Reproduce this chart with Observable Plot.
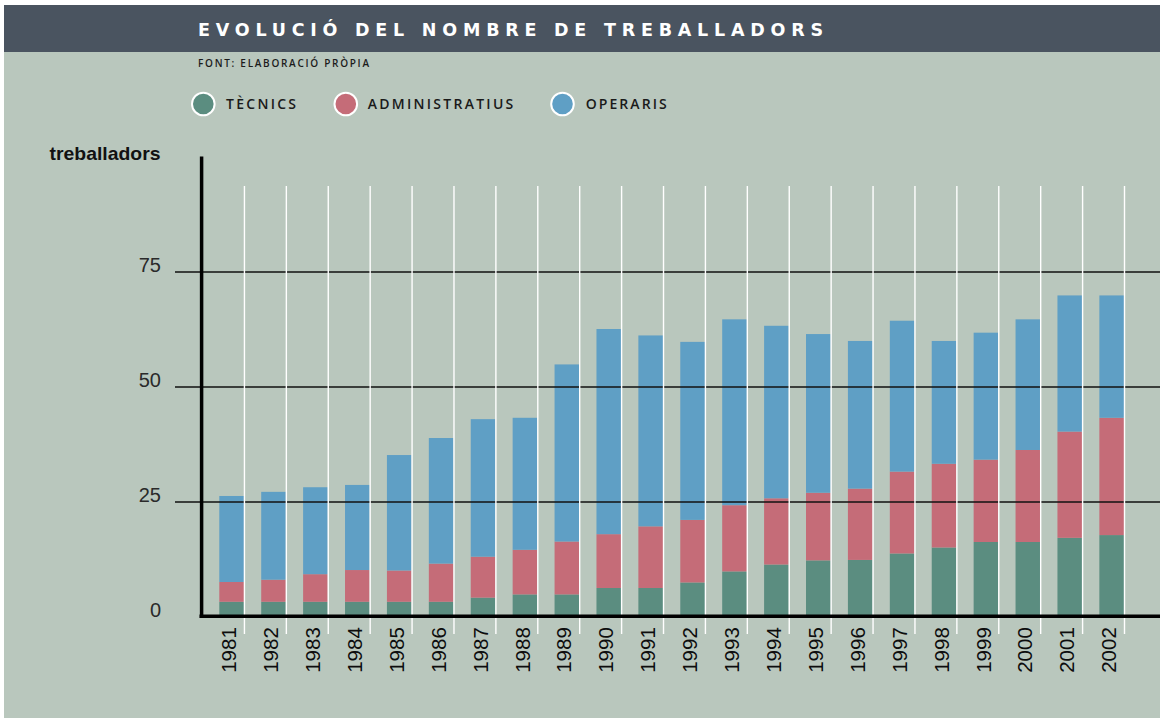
<!DOCTYPE html>
<html>
<head>
<meta charset="utf-8">
<script src="https://cdn.jsdelivr.net/npm/d3@7"></script>
<script src="https://cdn.jsdelivr.net/npm/@observablehq/plot@0.6"></script>
<style>
  html, body { margin: 0; padding: 0; background: #ffffff; }
  body { width: 1160px; height: 718px; position: relative; overflow: hidden; }
  #decor, #chart { position: absolute; left: 0; top: 0; }
  #chart svg { display: block; }
  g[aria-label="xlabels"] text { letter-spacing: 1.4px; }
</style>
</head>
<body>
<svg id="decor" width="1160" height="718"></svg>
<div id="chart"></div>
<script>
// ---- data ----
const years = [1981, 1982, 1983, 1984, 1985, 1986, 1987, 1988, 1989, 1990, 1991,
               1992, 1993, 1994, 1995, 1996, 1997, 1998, 1999, 2000, 2001, 2002];
const tecnics        = [3.2, 3.2, 3.2, 3.2, 3.2, 3.2, 4.1, 4.8, 4.8, 6.2, 6.2,
                        7.4, 9.8, 11.3, 12.2, 12.3, 13.7, 15.0, 16.2, 16.2, 17.1, 17.7];
const administratius = [4.3, 4.8, 6.0, 6.9, 6.8, 8.3, 8.9, 9.7, 11.5, 11.7, 13.4,
                        13.6, 14.4, 14.4, 14.7, 15.5, 17.8, 18.2, 17.9, 20.0, 23.1, 25.5];
const operaris       = [18.7, 19.1, 18.9, 18.5, 25.1, 27.3, 29.9, 28.7, 38.5, 44.6, 41.5,
                        38.7, 40.4, 37.5, 34.5, 32.1, 32.8, 26.7, 27.6, 28.4, 29.6, 26.6];
const seriesNames  = ["TÈCNICS", "ADMINISTRATIUS", "OPERARIS"];
const seriesColors = ["#5b8d80", "#c56c78", "#5f9fc5"];
const yTicks = [0, 25, 50, 75];
const titleText = "EVOLUCIÓ DEL NOMBRE DE TREBALLADORS";
const sourceText = "FONT: ELABORACIÓ PRÒPIA";
const yLabel = "treballadors";

const seriesValues = [tecnics, administratius, operaris];
const data = years.flatMap((yr, i) =>
  seriesNames.map((s, k) => ({year: yr, series: s, value: seriesValues[k][i]})));

// ---- decor: background, header, subtitle, legend ----
const decor = d3.select("#decor");
decor.append("rect").attr("x", 4).attr("y", 5).attr("width", 1156).attr("height", 713).attr("fill", "#b9c7bd");
decor.append("rect").attr("x", 4).attr("y", 5).attr("width", 1156).attr("height", 47).attr("fill", "#4a5460");
decor.append("text").text(titleText)
  .attr("x", 198).attr("y", 36)
  .attr("fill", "#ffffff")
  .attr("font-family", "'DejaVu Sans', sans-serif")
  .attr("font-weight", 700).attr("font-size", 17.5)
  .attr("textLength", 625).attr("lengthAdjust", "spacing");
decor.append("text").text(sourceText)
  .attr("x", 198).attr("y", 67)
  .attr("fill", "#1c1c1c")
  .attr("font-family", "'Open Sans', sans-serif")
  .attr("font-weight", 600).attr("font-size", 10)
  .attr("textLength", 171).attr("lengthAdjust", "spacing");

const legendCx = [203.3, 345.8, 562.5];
const legendTx = [226, 367.7, 585.7];
const legendTw = [70, 145.6, 81];
seriesNames.forEach((s, k) => {
  decor.append("circle").attr("cx", legendCx[k]).attr("cy", 104).attr("r", 11.3)
    .attr("fill", seriesColors[k]).attr("stroke", "#ffffff").attr("stroke-width", 2);
  decor.append("text").text(s)
    .attr("x", legendTx[k]).attr("y", 109)
    .attr("fill", "#1a1a1a")
    .attr("font-family", "'Open Sans', sans-serif")
    .attr("font-weight", 600).attr("font-size", 14)
    .attr("textLength", legendTw[k]).attr("lengthAdjust", "spacing");
});
decor.append("text").text(yLabel)
  .attr("x", 160.5).attr("y", 160).attr("text-anchor", "end")
  .attr("fill", "#111111")
  .attr("font-family", "'Liberation Sans', Arial, sans-serif")
  .attr("font-weight", 700).attr("font-size", 18.5)
  .attr("textLength", 111).attr("lengthAdjust", "spacingAndGlyphs");

// ---- chart ----
const X0 = 219.3, X1 = 1124, PAD = 0.412;
const step = (X1 - X0) / (years.length - PAD);
const bw = step * (1 - PAD);

const chart = Plot.plot({
  width: 1160,
  height: 718,
  marginLeft: 175,
  marginRight: 0,
  marginTop: 156.5,
  marginBottom: 101.5,
  style: {background: "transparent", overflow: "visible"},
  x: {type: "band", domain: years, range: [X0, X1], paddingInner: PAD, paddingOuter: 0, align: 0.5, round: false, axis: null},
  y: {domain: [0, 100], axis: null},
  color: {domain: seriesNames, range: seriesColors, legend: false},
  marks: [
    Plot.barY(data, {x: "year", y: "value", fill: "series"}),
    Plot.ruleY([25, 50, 75], {stroke: "#111111", strokeWidth: 1.3}),
    Plot.ruleX(years, {x: d => d, stroke: "#ffffff", strokeWidth: 1.4, dx: bw / 2, insetTop: 29.5, insetBottom: -17.5}),
    Plot.ruleY([0], {stroke: "#000000", strokeWidth: 3.6, insetLeft: 24.5, dy: -0.8}),
    Plot.ruleX([years[0]], {x: d => d, stroke: "#000000", strokeWidth: 3.5, dx: -(bw / 2) - 18.2, insetBottom: -1.5}),
    Plot.text(yTicks, {
      y: d => d, text: d => String(d), frameAnchor: "left", textAnchor: "end",
      dx: -14.5, dy: -6.8, fontSize: 20, fill: "#2a2a2a",
      fontFamily: "'Liberation Sans', Arial, sans-serif"
    }),
    Plot.text(years, {
      x: d => d, text: d => String(d), frameAnchor: "bottom", rotate: -90,
      textAnchor: "end", lineAnchor: "middle", dx: -2.5, dy: 10.2,
      fontSize: 20.5, fill: "#0d0d0d", ariaLabel: "xlabels",
      fontFamily: "'Liberation Sans', Arial, sans-serif"
    })
  ]
});
document.getElementById("chart").appendChild(chart);
</script>
</body>
</html>
